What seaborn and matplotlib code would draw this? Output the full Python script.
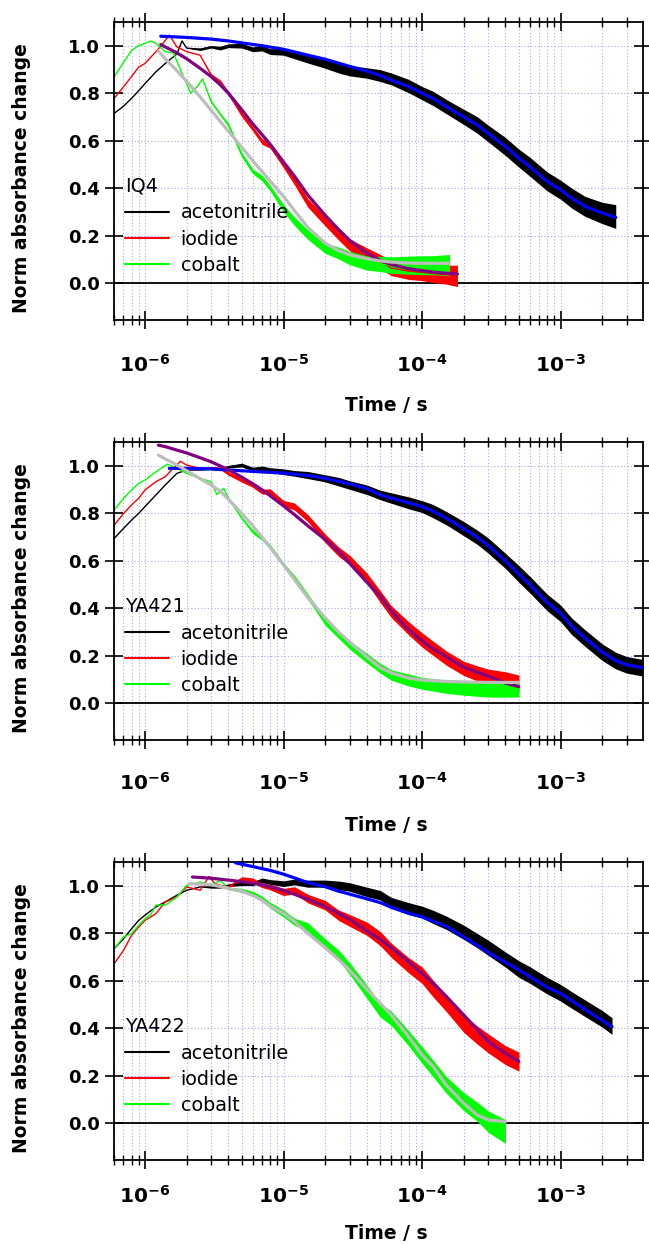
import numpy as np
import matplotlib
matplotlib.use("Agg")
import matplotlib.pyplot as plt
import seaborn as sns
from matplotlib.ticker import NullLocator, NullFormatter, LogLocator

# ---------------- data ----------------
PANEL_NAMES = ["IQ4", "YA421", "YA422"]
SERIES_LABELS = ["acetonitrile", "iodide", "cobalt"]
X_TICKS = [1e-6, 1e-5, 1e-4, 1e-3]
X_TICK_LABELS = ["$10^{-6}$", "$10^{-5}$", "$10^{-4}$", "$10^{-3}$"]
Y_TICKS = [0.0, 0.2, 0.4, 0.6, 0.8, 1.0]
Y_TICK_LABELS = ["0.0", "0.2", "0.4", "0.6", "0.8", "1.0"]

# ---- IQ4 ----
IQ4_ACN_T = [6e-7, 7e-7, 8e-7, 9e-7, 1e-6, 1.2e-6, 1.4e-6, 1.7e-6, 1.85e-6, 2e-6,
             2.5e-6, 3e-6, 3.5e-6, 4e-6, 5e-6, 6e-6, 7e-6, 8e-6, 1e-5, 1.2e-5,
             1.5e-5, 2e-5, 2.5e-5, 3e-5, 4e-5, 5e-5, 6e-5, 8e-5, 1e-4, 1.2e-4,
             1.5e-4, 2e-4, 2.5e-4, 3e-4, 4e-4, 5e-4, 6e-4, 8e-4, 1e-3, 1.2e-3,
             1.5e-3, 2e-3, 2.5e-3]
IQ4_ACN_Y = [0.715, 0.745, 0.778, 0.81, 0.84, 0.89, 0.925, 0.965, 1.02, 0.99,
             0.985, 0.995, 0.99, 1.0, 1.0, 0.985, 0.99, 0.975, 0.975, 0.96,
             0.945, 0.925, 0.905, 0.895, 0.885, 0.874, 0.86, 0.83, 0.80, 0.778,
             0.743, 0.70, 0.666, 0.63, 0.575, 0.526, 0.49, 0.428, 0.393, 0.358,
             0.323, 0.295, 0.28]
IQ4_ACN_N = [0, 0, 0, 0, 0, 0, 0, 0, 0, 0,
             0.005, 0.005, 0.008, 0.008, 0.01, 0.01, 0.012, 0.012, 0.015, 0.015,
             0.018, 0.02, 0.02, 0.022, 0.022, 0.025, 0.025, 0.028, 0.028, 0.03,
             0.03, 0.032, 0.035, 0.035, 0.038, 0.038, 0.04, 0.04, 0.04, 0.042,
             0.042, 0.045, 0.05]
IQ4_ACN_FIT_T = [1.3e-6, 2e-6, 3e-6, 4e-6, 5e-6, 7e-6, 1e-5, 1.5e-5, 2e-5, 3e-5,
                 4e-5, 5e-5, 6e-5, 8e-5, 1e-4, 1.2e-4, 1.5e-4, 2e-4, 2.5e-4, 3e-4,
                 4e-4, 5e-4, 6e-4, 8e-4, 1e-3, 1.2e-3, 1.5e-3, 2e-3, 2.5e-3]
IQ4_ACN_FIT_Y = [1.04, 1.035, 1.028, 1.02, 1.012, 1.0, 0.985, 0.96, 0.943, 0.913,
                 0.893, 0.874, 0.855, 0.828, 0.80, 0.778, 0.743, 0.70, 0.666, 0.63,
                 0.575, 0.526, 0.49, 0.428, 0.393, 0.358, 0.323, 0.295, 0.276]

IQ4_IOD_T = [6e-7, 7e-7, 8e-7, 9e-7, 1e-6, 1.2e-6, 1.35e-6, 1.5e-6, 1.7e-6, 2e-6,
             2.5e-6, 3e-6, 3.5e-6, 4e-6, 5e-6, 6e-6, 7e-6, 8e-6, 1e-5, 1.2e-5,
             1.5e-5, 2e-5, 2.5e-5, 3e-5, 4e-5, 5e-5, 6e-5, 8e-5, 1e-4, 1.2e-4,
             1.5e-4, 1.8e-4]
IQ4_IOD_Y = [0.778, 0.827, 0.87, 0.91, 0.925, 0.975, 1.01, 1.045, 0.995, 0.975,
             0.96, 0.877, 0.85, 0.80, 0.71, 0.65, 0.596, 0.58, 0.50, 0.428,
             0.337, 0.26, 0.203, 0.161, 0.12, 0.09, 0.063, 0.05, 0.045, 0.04,
             0.035, 0.03]
IQ4_IOD_N = [0, 0, 0, 0, 0, 0, 0, 0, 0, 0,
             0, 0.005, 0.005, 0.008, 0.01, 0.01, 0.012, 0.012, 0.015, 0.015,
             0.018, 0.02, 0.022, 0.025, 0.028, 0.03, 0.032, 0.035, 0.035, 0.038,
             0.04, 0.045]
IQ4_IOD_FIT_T = [1.3e-6, 1.4e-6, 1.7e-6, 2e-6, 2.5e-6, 3e-6, 3.5e-6, 4e-6, 5e-6, 6e-6,
                 7e-6, 8e-6, 1e-5, 1.2e-5, 1.5e-5, 2e-5, 2.5e-5, 3e-5, 4e-5, 5e-5,
                 6e-5, 8e-5, 1e-4, 1.2e-4, 1.5e-4, 1.8e-4]
IQ4_IOD_FIT_Y = [1.005, 0.995, 0.97, 0.945, 0.905, 0.87, 0.835, 0.80, 0.73, 0.67,
                 0.625, 0.585, 0.51, 0.45, 0.37, 0.285, 0.225, 0.18, 0.125, 0.095,
                 0.078, 0.06, 0.052, 0.046, 0.041, 0.038]

IQ4_COB_T = [6e-7, 7e-7, 8e-7, 9e-7, 1e-6, 1.1e-6, 1.2e-6, 1.4e-6, 1.6e-6, 1.8e-6,
             2.14e-6, 2.4e-6, 2.6e-6, 3e-6, 3.5e-6, 4e-6, 5e-6, 6e-6, 7e-6, 8e-6,
             1e-5, 1.2e-5, 1.5e-5, 2e-5, 2.5e-5, 3e-5, 4e-5, 5e-5, 6e-5, 8e-5,
             1e-4, 1.2e-4, 1.58e-4]
IQ4_COB_Y = [0.87, 0.93, 0.98, 1.0, 1.01, 1.02, 1.01, 0.975, 0.97, 0.90,
             0.80, 0.83, 0.86, 0.765, 0.71, 0.666, 0.54, 0.47, 0.442, 0.40,
             0.315, 0.26, 0.203, 0.147, 0.126, 0.105, 0.084, 0.08, 0.075, 0.075,
             0.075, 0.075, 0.075]
IQ4_COB_N = [0, 0, 0, 0, 0, 0, 0, 0, 0, 0,
             0, 0, 0, 0.005, 0.005, 0.008, 0.01, 0.01, 0.012, 0.012,
             0.015, 0.018, 0.02, 0.022, 0.025, 0.028, 0.03, 0.032, 0.035, 0.038,
             0.04, 0.04, 0.045]
IQ4_COB_FIT_T = [1.25e-6, 1.4e-6, 1.7e-6, 2e-6, 2.5e-6, 3e-6, 3.5e-6, 4e-6, 5e-6, 6e-6,
                 7e-6, 8e-6, 1e-5, 1.2e-5, 1.5e-5, 2e-5, 2.5e-5, 3e-5, 4e-5, 5e-5,
                 6e-5, 8e-5, 1e-4, 1.58e-4]
IQ4_COB_FIT_Y = [0.978, 0.945, 0.895, 0.85, 0.785, 0.728, 0.68, 0.64, 0.572, 0.515,
                 0.47, 0.43, 0.365, 0.305, 0.234, 0.168, 0.136, 0.119, 0.102, 0.093,
                 0.088, 0.084, 0.083, 0.083]

# ---- YA421 ----
YA421_ACN_T = [6e-7, 7e-7, 8e-7, 9e-7, 1e-6, 1.2e-6, 1.4e-6, 1.7e-6, 2e-6, 2.5e-6,
               3e-6, 3.5e-6, 4e-6, 5e-6, 6e-6, 7e-6, 8e-6, 1e-5, 1.2e-5, 1.5e-5,
               2e-5, 2.5e-5, 3e-5, 4e-5, 5e-5, 6e-5, 8e-5, 1e-4, 1.2e-4, 1.5e-4,
               2e-4, 2.5e-4, 3e-4, 4e-4, 5e-4, 6e-4, 8e-4, 1e-3, 1.2e-3, 1.5e-3,
               2e-3, 2.5e-3, 3e-3, 3.9e-3]
YA421_ACN_Y = [0.695, 0.737, 0.772, 0.80, 0.829, 0.878, 0.92, 0.969, 0.983, 0.983,
               0.99, 0.985, 0.997, 1.004, 0.987, 0.99, 0.983, 0.976, 0.969, 0.962,
               0.948, 0.934, 0.92, 0.90, 0.878, 0.865, 0.845, 0.829, 0.81, 0.78,
               0.736, 0.70, 0.665, 0.60, 0.545, 0.50, 0.425, 0.379, 0.325, 0.275,
               0.215, 0.18, 0.162, 0.15]
YA421_ACN_N = [0, 0, 0, 0, 0, 0, 0, 0, 0, 0,
               0.005, 0.005, 0.005, 0.008, 0.008, 0.01, 0.01, 0.012, 0.012, 0.015,
               0.015, 0.018, 0.018, 0.02, 0.02, 0.022, 0.025, 0.025, 0.028, 0.028,
               0.03, 0.03, 0.032, 0.032, 0.035, 0.035, 0.035, 0.035, 0.035, 0.035,
               0.035, 0.035, 0.035, 0.035]
YA421_ACN_FIT_T = [1.5e-6, 2e-6, 3e-6, 5e-6, 1e-5, 1.5e-5, 2e-5, 3e-5, 4e-5, 5e-5,
                   6e-5, 8e-5, 1e-4, 1.2e-4, 1.5e-4, 2e-4, 2.5e-4, 3e-4, 4e-4, 5e-4,
                   6e-4, 8e-4, 1e-3, 1.2e-3, 1.5e-3, 2e-3, 2.5e-3, 3e-3, 3.9e-3]
YA421_ACN_FIT_Y = [0.99, 0.99, 0.988, 0.98, 0.97, 0.96, 0.948, 0.925, 0.905, 0.878,
                   0.865, 0.845, 0.829, 0.81, 0.78, 0.736, 0.70, 0.665, 0.60, 0.545,
                   0.50, 0.425, 0.379, 0.325, 0.275, 0.215, 0.18, 0.162, 0.15]

YA421_IOD_T = [6e-7, 7e-7, 8e-7, 9e-7, 1e-6, 1.2e-6, 1.4e-6, 1.6e-6, 1.8e-6, 2e-6,
               2.5e-6, 3e-6, 3.5e-6, 4e-6, 5e-6, 6e-6, 7e-6, 8e-6, 1e-5, 1.2e-5,
               1.5e-5, 2e-5, 2.5e-5, 3e-5, 4e-5, 5e-5, 6e-5, 8e-5, 1e-4, 1.2e-4,
               1.5e-4, 2e-4, 2.5e-4, 3e-4, 4e-4, 5e-4]
YA421_IOD_Y = [0.751, 0.80, 0.836, 0.864, 0.899, 0.934, 0.955, 0.99, 1.02, 1.004,
               0.99, 0.993, 0.99, 0.969, 0.94, 0.92, 0.892, 0.892, 0.843, 0.829,
               0.78, 0.695, 0.639, 0.604, 0.527, 0.449, 0.386, 0.316, 0.267, 0.232,
               0.19, 0.147, 0.126, 0.112, 0.098, 0.084]
YA421_IOD_N = [0, 0, 0, 0, 0, 0, 0, 0, 0, 0,
               0, 0.005, 0.005, 0.008, 0.008, 0.01, 0.01, 0.012, 0.012, 0.015,
               0.015, 0.018, 0.02, 0.02, 0.022, 0.025, 0.025, 0.028, 0.03, 0.03,
               0.03, 0.03, 0.032, 0.032, 0.035, 0.035]
YA421_IOD_FIT_T = [1.25e-6, 1.4e-6, 1.7e-6, 2e-6, 2.5e-6, 3e-6, 3.5e-6, 4e-6, 5e-6, 6e-6,
                   7e-6, 8e-6, 1e-5, 1.2e-5, 1.5e-5, 2e-5, 2.5e-5, 3e-5, 4e-5, 5e-5,
                   6e-5, 8e-5, 1e-4, 1.2e-4, 1.5e-4, 2e-4, 2.5e-4, 3e-4, 4e-4, 5e-4]
YA421_IOD_FIT_Y = [1.088, 1.082, 1.067, 1.055, 1.035, 1.018, 1.0, 0.985, 0.953, 0.925,
                   0.90, 0.875, 0.832, 0.795, 0.748, 0.69, 0.64, 0.59, 0.51, 0.45,
                   0.388, 0.31, 0.263, 0.23, 0.195, 0.152, 0.13, 0.115, 0.085, 0.07]

YA421_COB_T = [6e-7, 7e-7, 8e-7, 9e-7, 1e-6, 1.2e-6, 1.45e-6, 1.7e-6, 2e-6, 2.5e-6,
               3e-6, 3.3e-6, 3.7e-6, 4e-6, 5e-6, 6e-6, 7e-6, 8e-6, 1e-5, 1.2e-5,
               1.5e-5, 2e-5, 2.5e-5, 3e-5, 4e-5, 5e-5, 6e-5, 8e-5, 1e-4, 1.5e-4,
               2e-4, 3e-4, 4e-4, 5e-4]
YA421_COB_Y = [0.815, 0.864, 0.899, 0.927, 0.941, 0.976, 1.008, 0.99, 0.969, 0.948,
               0.934, 0.88, 0.906, 0.864, 0.78, 0.723, 0.695, 0.66, 0.583, 0.527,
               0.449, 0.344, 0.288, 0.246, 0.19, 0.147, 0.119, 0.098, 0.084, 0.07,
               0.062, 0.056, 0.056, 0.056]
YA421_COB_N = [0, 0, 0, 0, 0, 0, 0, 0, 0, 0,
               0, 0, 0, 0.005, 0.005, 0.008, 0.008, 0.01, 0.01, 0.012,
               0.012, 0.015, 0.015, 0.018, 0.02, 0.02, 0.022, 0.025, 0.025, 0.028,
               0.028, 0.03, 0.03, 0.03]
YA421_COB_FIT_T = [1.25e-6, 1.4e-6, 1.7e-6, 2e-6, 2.5e-6, 3e-6, 3.5e-6, 4e-6, 5e-6, 6e-6,
                   7e-6, 8e-6, 1e-5, 1.2e-5, 1.5e-5, 2e-5, 2.5e-5, 3e-5, 4e-5, 5e-5,
                   6e-5, 8e-5, 1e-4, 1.5e-4, 2e-4, 3e-4, 5e-4]
YA421_COB_FIT_Y = [1.046, 1.03, 1.005, 0.98, 0.947, 0.92, 0.894, 0.86, 0.80, 0.748,
                   0.70, 0.657, 0.584, 0.521, 0.445, 0.36, 0.30, 0.258, 0.195, 0.15,
                   0.128, 0.106, 0.098, 0.092, 0.09, 0.088, 0.088]

# ---- YA422 ----
YA422_ACN_T = [6e-7, 7e-7, 8e-7, 9e-7, 1e-6, 1.2e-6, 1.4e-6, 1.7e-6, 2e-6, 2.5e-6,
               3e-6, 3.5e-6, 4e-6, 5e-6, 6e-6, 7e-6, 8e-6, 1e-5, 1.2e-5, 1.5e-5,
               2e-5, 2.5e-5, 3e-5, 4e-5, 5e-5, 6e-5, 8e-5, 1e-4, 1.2e-4, 1.5e-4,
               2e-4, 2.5e-4, 3e-4, 4e-4, 5e-4, 6e-4, 8e-4, 1e-3, 1.2e-3, 1.5e-3,
               2e-3, 2.35e-3]
YA422_ACN_Y = [0.736, 0.778, 0.82, 0.855, 0.877, 0.912, 0.933, 0.961, 0.982, 0.996,
               0.996, 0.996, 1.003, 1.01, 1.01, 1.024, 1.017, 1.01, 1.017, 1.01,
               1.01, 1.003, 0.996, 0.975, 0.961, 0.93, 0.905, 0.89, 0.87, 0.845,
               0.805, 0.77, 0.74, 0.69, 0.65, 0.625, 0.58, 0.55, 0.52, 0.485,
               0.44, 0.41]
YA422_ACN_N = [0, 0, 0, 0, 0, 0, 0, 0, 0, 0,
               0.005, 0.005, 0.005, 0.008, 0.008, 0.01, 0.01, 0.012, 0.012, 0.015,
               0.015, 0.018, 0.018, 0.02, 0.02, 0.022, 0.025, 0.025, 0.028, 0.028,
               0.03, 0.03, 0.032, 0.032, 0.035, 0.035, 0.035, 0.035, 0.035, 0.035,
               0.035, 0.035]
YA422_ACN_FIT_T = [4.5e-6, 5e-6, 6e-6, 8e-6, 1e-5, 1.2e-5, 1.5e-5, 2e-5, 2.5e-5, 3e-5,
                   4e-5, 5e-5, 6e-5, 8e-5, 1e-4, 1.2e-4, 1.5e-4, 2e-4, 2.5e-4, 3e-4,
                   4e-4, 5e-4, 6e-4, 8e-4, 1e-3, 1.2e-3, 1.5e-3, 2e-3, 2.35e-3]
YA422_ACN_FIT_Y = [1.098, 1.092, 1.082, 1.066, 1.05, 1.034, 1.014, 0.997, 0.978, 0.966,
                   0.946, 0.93, 0.91, 0.885, 0.87, 0.852, 0.83, 0.785, 0.75, 0.72,
                   0.678, 0.647, 0.617, 0.573, 0.547, 0.517, 0.48, 0.433, 0.407]

YA422_IOD_T = [6e-7, 7e-7, 8e-7, 9e-7, 1e-6, 1.2e-6, 1.4e-6, 1.7e-6, 2e-6, 2.5e-6,
               2.9e-6, 3.2e-6, 3.5e-6, 4e-6, 5e-6, 6e-6, 7e-6, 8e-6, 1e-5, 1.2e-5,
               1.5e-5, 2e-5, 2.5e-5, 3e-5, 4e-5, 5e-5, 6e-5, 8e-5, 1e-4, 1.2e-4,
               1.5e-4, 2e-4, 2.5e-4, 3e-4, 4e-4, 5e-4]
YA422_IOD_Y = [0.673, 0.729, 0.792, 0.827, 0.855, 0.884, 0.933, 0.954, 0.996, 0.982,
               1.04, 1.01, 1.003, 0.996, 1.031, 1.024, 1.003, 0.996, 0.975, 0.982,
               0.947, 0.919, 0.877, 0.855, 0.82, 0.778, 0.729, 0.666, 0.624, 0.568,
               0.505, 0.421, 0.372, 0.337, 0.287, 0.26]
YA422_IOD_N = [0, 0, 0, 0, 0, 0, 0, 0, 0, 0,
               0, 0, 0, 0.005, 0.008, 0.01, 0.01, 0.012, 0.015, 0.015,
               0.018, 0.02, 0.022, 0.025, 0.028, 0.03, 0.03, 0.032, 0.035, 0.035,
               0.035, 0.038, 0.038, 0.04, 0.04, 0.04]
YA422_IOD_FIT_T = [2.2e-6, 2.5e-6, 3e-6, 4e-6, 5e-6, 6e-6, 7e-6, 8e-6, 1e-5, 1.2e-5,
                   1.5e-5, 2e-5, 2.5e-5, 3e-5, 4e-5, 5e-5, 6e-5, 8e-5, 1e-4, 1.2e-4,
                   1.5e-4, 2e-4, 2.5e-4, 3e-4, 4e-4, 5e-4]
YA422_IOD_FIT_Y = [1.038, 1.036, 1.033, 1.025, 1.018, 1.012, 1.005, 0.997, 0.982, 0.965,
                   0.944, 0.913, 0.885, 0.86, 0.81, 0.775, 0.74, 0.68, 0.631, 0.59,
                   0.534, 0.456, 0.395, 0.344, 0.295, 0.26]

YA422_COB_T = [6e-7, 7e-7, 8e-7, 9e-7, 1e-6, 1.1e-6, 1.2e-6, 1.4e-6, 1.7e-6, 2e-6,
               2.5e-6, 3e-6, 3.5e-6, 4e-6, 5e-6, 6e-6, 7e-6, 8e-6, 1e-5, 1.2e-5,
               1.5e-5, 2e-5, 2.5e-5, 3e-5, 4e-5, 5e-5, 6e-5, 8e-5, 1e-4, 1.2e-4,
               1.5e-4, 2e-4, 2.5e-4, 3e-4, 4e-4]
YA422_COB_Y = [0.736, 0.785, 0.80, 0.834, 0.862, 0.88, 0.92, 0.919, 0.954, 1.003,
               1.017, 1.003, 1.024, 0.989, 0.982, 0.968, 0.947, 0.919, 0.884, 0.849,
               0.827, 0.757, 0.708, 0.652, 0.554, 0.477, 0.442, 0.358, 0.288, 0.231,
               0.161, 0.091, 0.049, 0.007, -0.035]
YA422_COB_N = [0, 0, 0, 0, 0, 0, 0, 0, 0, 0,
               0, 0, 0, 0.005, 0.008, 0.01, 0.01, 0.012, 0.015, 0.015,
               0.018, 0.02, 0.022, 0.025, 0.028, 0.03, 0.03, 0.032, 0.035, 0.035,
               0.035, 0.038, 0.04, 0.045, 0.05]
YA422_COB_FIT_T = [2.1e-6, 2.5e-6, 3e-6, 3.5e-6, 4e-6, 5e-6, 6e-6, 7e-6, 8e-6, 1e-5,
                   1.2e-5, 1.5e-5, 2e-5, 2.5e-5, 3e-5, 4e-5, 5e-5, 6e-5, 8e-5, 1e-4,
                   1.2e-4, 1.5e-4, 2e-4, 2.5e-4, 3e-4, 4e-4]
YA422_COB_FIT_Y = [1.01, 1.008, 1.005, 0.998, 0.99, 0.978, 0.96, 0.94, 0.915, 0.885,
                   0.85, 0.80, 0.74, 0.69, 0.645, 0.565, 0.505, 0.456, 0.365, 0.288,
                   0.24, 0.16, 0.084, 0.035, 0.014, 0.007]

# ---------------- style ----------------
sns.set_theme(style="white")
plt.rcParams["font.family"] = ["DejaVu Sans"]
plt.rcParams["mathtext.default"] = "bf"
plt.rcParams["text.color"] = "black"
plt.rcParams["axes.labelcolor"] = "black"
plt.rcParams["xtick.color"] = "black"
plt.rcParams["ytick.color"] = "black"
plt.rcParams["xtick.labelcolor"] = "black"
plt.rcParams["ytick.labelcolor"] = "black"
plt.rcParams["legend.labelcolor"] = "black"

DATA_COLORS = ["#000000", "#ff0000", "#00ff00"]
FIT_COLORS = ["#0000ff", "#800080", "#bdbdbd"]
GRID_COLOR = "#a8a8ff"

PANELS = [
    ("IQ4",
     [(IQ4_ACN_T, IQ4_ACN_Y, IQ4_ACN_N), (IQ4_IOD_T, IQ4_IOD_Y, IQ4_IOD_N), (IQ4_COB_T, IQ4_COB_Y, IQ4_COB_N)],
     [(IQ4_ACN_FIT_T, IQ4_ACN_FIT_Y), (IQ4_IOD_FIT_T, IQ4_IOD_FIT_Y), (IQ4_COB_FIT_T, IQ4_COB_FIT_Y)]),
    ("YA421",
     [(YA421_ACN_T, YA421_ACN_Y, YA421_ACN_N), (YA421_IOD_T, YA421_IOD_Y, YA421_IOD_N), (YA421_COB_T, YA421_COB_Y, YA421_COB_N)],
     [(YA421_ACN_FIT_T, YA421_ACN_FIT_Y), (YA421_IOD_FIT_T, YA421_IOD_FIT_Y), (YA421_COB_FIT_T, YA421_COB_FIT_Y)]),
    ("YA422",
     [(YA422_ACN_T, YA422_ACN_Y, YA422_ACN_N), (YA422_IOD_T, YA422_IOD_Y, YA422_IOD_N), (YA422_COB_T, YA422_COB_Y, YA422_COB_N)],
     [(YA422_ACN_FIT_T, YA422_ACN_FIT_Y), (YA422_IOD_FIT_T, YA422_IOD_FIT_Y), (YA422_COB_FIT_T, YA422_COB_FIT_Y)]),
]

fig = plt.figure(figsize=(6.49, 12.44), dpi=100)
AX_LEFT, AX_W, AX_H = 0.1749, 0.8151, 0.23955
AX_BOTTOMS = [0.74277, 0.4049, 0.06728]
XTICK_PADS = [18, 16, 11]
XLABEL_Y = [-0.255, -0.255, -0.215]

for (name, data, fits), bottom, xpad, xly in zip(PANELS, AX_BOTTOMS, XTICK_PADS, XLABEL_Y):
    ax = fig.add_axes([AX_LEFT, bottom, AX_W, AX_H])
    ax.set_facecolor("white")
    ax.set_xscale("log")

    handles = []
    for (t, y, n), col, lab in zip(data, DATA_COLORS, SERIES_LABELS):
        t = np.asarray(t); y = np.asarray(y); n = np.asarray(n)
        ax.fill_between(t, y - n, y + n, color=col, lw=0, zorder=2)
        sns.lineplot(x=t, y=y, ax=ax, color=col, linewidth=1.0, estimator=None,
                     sort=False, zorder=2.1)
        handles.append(ax.lines[-1])
    for (t, y), col in zip(fits, FIT_COLORS):
        sns.lineplot(x=t, y=y, ax=ax, color=col, linewidth=2.3, estimator=None,
                     sort=False, zorder=3)

    ax.axhline(0, color="black", lw=1.3, zorder=1.5)

    ax.set_xlim(5.93e-7, 3.9e-3)
    ax.set_ylim(-0.156, 1.1)

    ax.set_xticks(X_TICKS)
    ax.set_xticklabels(X_TICK_LABELS, fontsize=14.5, color="black")
    ax.xaxis.set_minor_locator(LogLocator(base=10, subs=(2, 3, 4, 5, 6, 7, 8, 9), numticks=12))
    ax.xaxis.set_minor_formatter(NullFormatter())
    ax.set_yticks(Y_TICKS)
    ax.set_yticklabels(Y_TICK_LABELS, fontsize=13, fontweight="bold", color="black")
    ax.yaxis.set_minor_locator(NullLocator())

    ax.tick_params(which="both", direction="inout", top=True, right=True,
                   bottom=True, left=True, labeltop=False, labelright=False,
                   color="black")
    ax.tick_params(which="major", length=13.5, width=1.2)
    ax.tick_params(which="minor", length=6.8, width=1.0)
    ax.tick_params(axis="x", which="major", pad=xpad)
    ax.tick_params(axis="y", which="major", pad=3)

    ax.grid(which="major", axis="both", color=GRID_COLOR, linestyle=(0, (1, 2)), linewidth=0.8)
    ax.grid(which="minor", axis="x", color=GRID_COLOR, linestyle=(0, (1, 2)), linewidth=0.8)
    ax.set_axisbelow(True)

    for sp in ax.spines.values():
        sp.set_visible(True)
        sp.set_color("black")
        sp.set_linewidth(1.3)

    ax.set_xlabel("Time / s", fontsize=13.5, fontweight="bold", color="black")
    ax.xaxis.set_label_coords(0.516, xly)
    ax.set_ylabel("Norm absorbance change", fontsize=13.5, fontweight="bold", color="black")
    ax.yaxis.set_label_coords(-0.156, 0.477)

    leg = ax.legend(handles, SERIES_LABELS, title=name, loc="upper left",
                    bbox_to_anchor=(0.022, 0.48), frameon=False, fontsize=13.8,
                    title_fontsize=13.8, alignment="left", borderpad=0,
                    borderaxespad=0, handlelength=2.3, handletextpad=0.6,
                    labelspacing=0.38)
    leg.get_title().set_color("black")
    for txt in leg.get_texts():
        txt.set_color("black")
    for ln in leg.get_lines():
        ln.set_linewidth(1.5)

fig.savefig("out.png", dpi=100)
